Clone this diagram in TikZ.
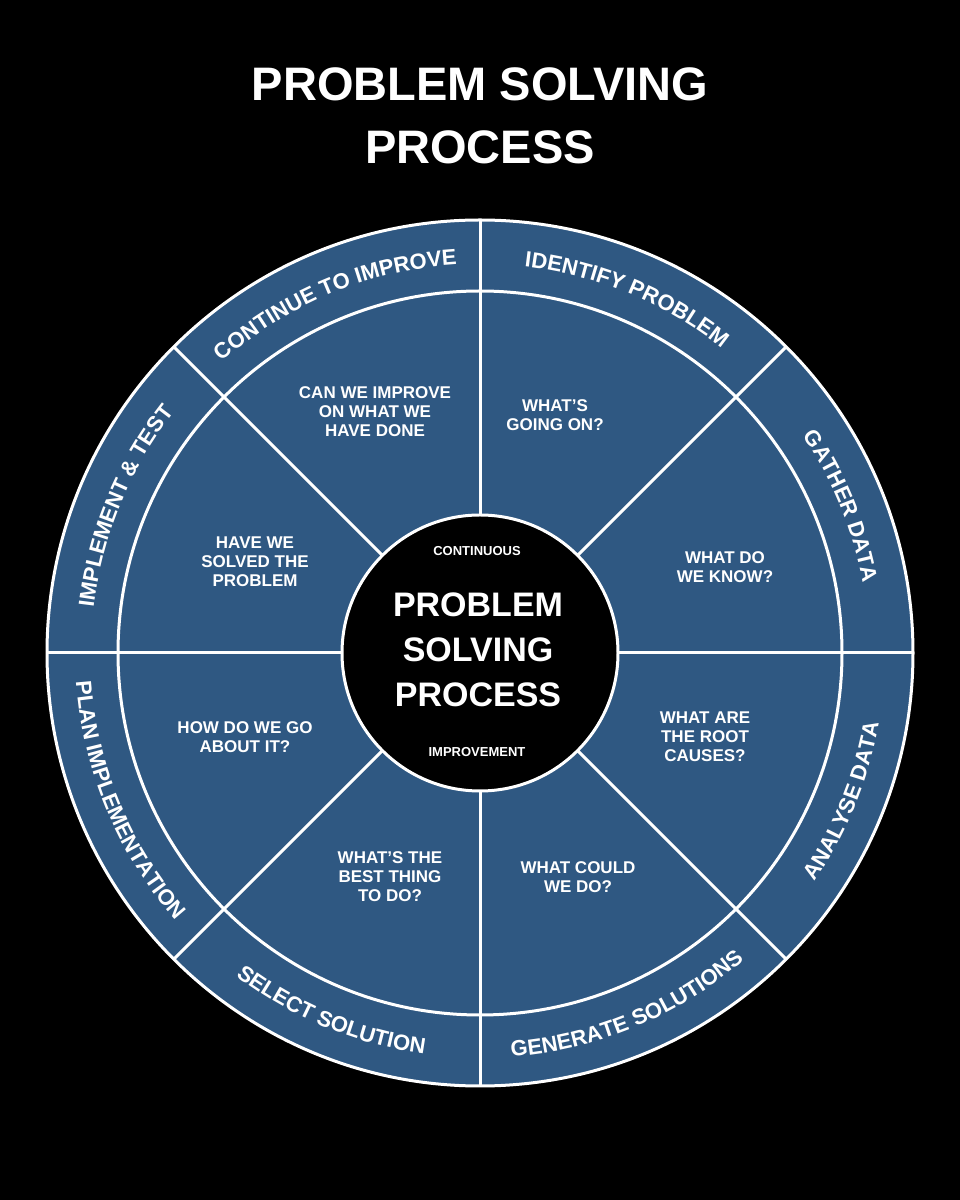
\documentclass[tikz,border=0pt]{standalone}
\usepackage{fontspec}
\setmainfont{Liberation Sans}
\definecolor{wheel}{HTML}{2F5882}
\newcommand\ringfont{\bfseries\fontsize{22}{22}\selectfont}
\protected\def\spc{\ }
\newdimen\accd \newdimen\totd \newdimen\chwd
\newcommand\prep[3]{%
 \settowidth\totd{\ringfont #3}\global\accd=0pt \gdef#1{}%
 \foreach \ch in {#2}{%
   \settowidth\chwd{\ringfont\ch}%
   \pgfmathsetmacro\off{\totd/2-\accd-\chwd/2}%
   \xdef#1{#1\ifx#1\empty\else,\fi\ch/\off}%
   \global\advance\accd by\chwd}}
\newcommand\arctext[4]{% radius, mid angle, dir, list
 \foreach \ch/\off in #4{%
   \pgfmathsetmacro\ang{#2 + #3*\off/#1*57.2958}%
   \pgfmathsetmacro\rotang{\ang - #3*90}%
   \node[text=white,font=\ringfont,inner sep=0pt,anchor=base,rotate=\rotang] at ([shift={(\ang:#1)}]c) {\ch};
 }}
\begin{document}
\prep\la{C,O,N,T,I,N,U,E,\spc,T,O,\spc,I,M,P,R,O,V,E}{CONTINUE TO IMPROVE}%
\prep\lb{I,D,E,N,T,I,F,Y,\spc,P,R,O,B,L,E,M}{IDENTIFY PROBLEM}%
\prep\lc{G,A,T,H,E,R,\spc,D,A,T,A}{GATHER DATA}%
\prep\ld{I,M,P,L,E,M,E,N,T,\spc,\&,\spc,T,E,S,T}{IMPLEMENT \& TEST}%
\prep\le{A,N,A,L,Y,S,E,\spc,D,A,T,A}{ANALYSE DATA}%
\prep\lf{G,E,N,E,R,A,T,E,\spc,S,O,L,U,T,I,O,N,S}{GENERATE SOLUTIONS}%
\prep\lg{S,E,L,E,C,T,\spc,S,O,L,U,T,I,O,N}{SELECT SOLUTION}%
\prep\lh{P,L,A,N,\spc,I,M,P,L,E,M,E,N,T,A,T,I,O,N}{PLAN IMPLEMENTATION}%
\begin{tikzpicture}[x=1pt,y=1pt,
  q/.style={text=white,font=\bfseries\fontsize{17}{19}\selectfont,align=center}]
\fill[black] (0,0) rectangle (960,1200);
\useasboundingbox (0,0) rectangle (960,1200);
\node[text=white,font=\bfseries\fontsize{47}{63}\selectfont,align=center] (title) at (480,1084) {PROBLEM SOLVING\\PROCESS};
\coordinate (c) at (480,547);
\fill[wheel,draw=white,line width=3pt] (c) circle (433);
\draw[white,line width=3pt] (c) circle (362);
\foreach \a in {0,45,...,315} \draw[white,line width=3pt] (c) ++(\a:138) -- ++(\a:295);
\filldraw[fill=black,draw=white,line width=3pt] (c) circle (138);
% ring labels
\arctext{389}{112.5}{1}{\la}
\arctext{389}{67.5}{1}{\lb}
\arctext{389}{22.5}{1}{\lc}
\arctext{389}{157.5}{1}{\ld}
\arctext{405}{-22.5}{-1}{\le}
\arctext{405}{-67.5}{-1}{\lf}
\arctext{405}{-112.5}{-1}{\lg}
\arctext{405}{-157.5}{-1}{\lh}
% sector questions
\node[q] (q1) at (375,788) {CAN WE IMPROVE\\ON WHAT WE\\HAVE DONE};
\node[q] (q2) at (555,785) {WHAT'S\\GOING ON?};
\node[q] (q3) at (725,633) {WHAT DO\\WE KNOW?};
\node[q] (q4) at (705,463) {WHAT ARE\\THE ROOT\\CAUSES?};
\node[q] (q5) at (578,323) {WHAT COULD\\WE DO?};
\node[q] (q6) at (390,323) {WHAT'S THE\\BEST THING\\TO DO?};
\node[q] (q7) at (245,463) {HOW DO WE GO\\ABOUT IT?};
\node[q] (q8) at (255,638) {HAVE WE\\SOLVED THE\\PROBLEM};
% center
\node[text=white,font=\bfseries\fontsize{13}{13}\selectfont] (ct) at (477,649) {CONTINUOUS};
\node[text=white,font=\bfseries\fontsize{34}{45}\selectfont,align=center] (cm) at (478,550) {PROBLEM\\SOLVING\\PROCESS};
\node[text=white,font=\bfseries\fontsize{13}{13}\selectfont] (cb) at (477,448) {IMPROVEMENT};
\end{tikzpicture}
\end{document}
